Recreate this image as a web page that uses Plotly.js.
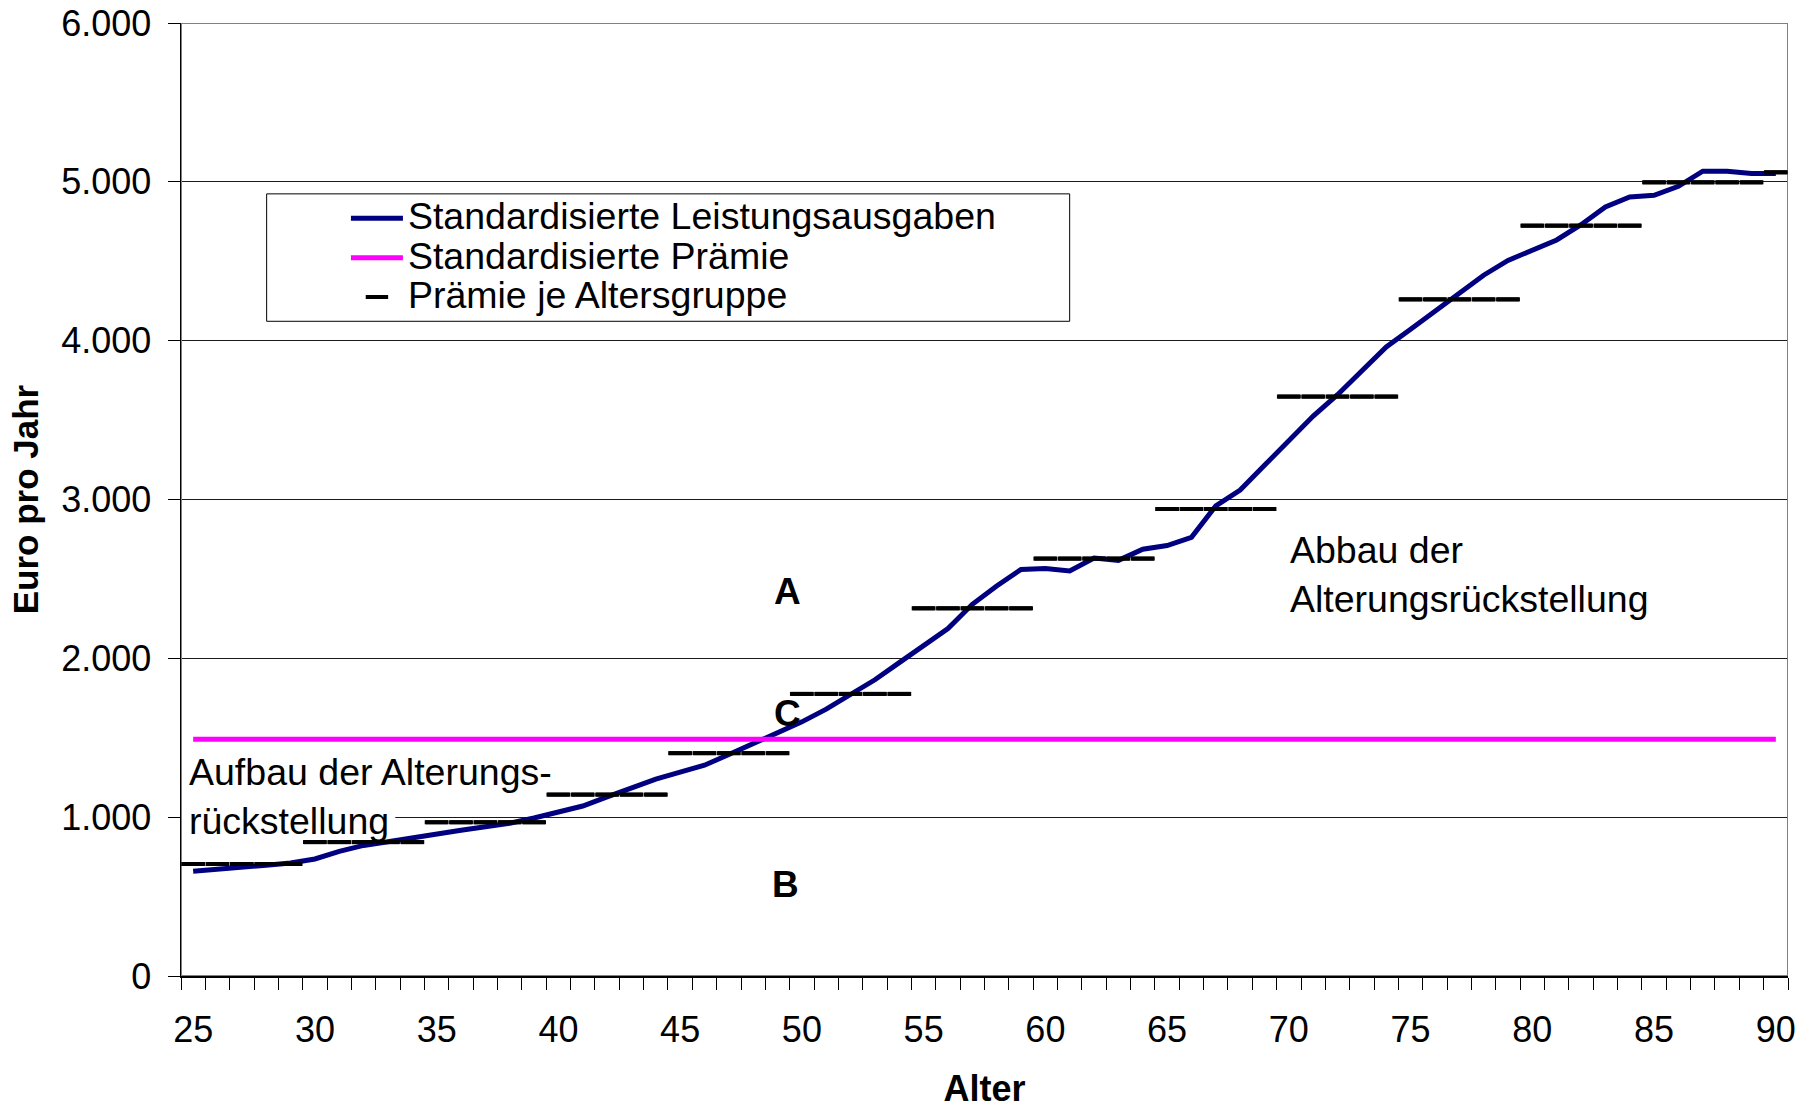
<!DOCTYPE html>
<html>
<head>
<meta charset="utf-8">
<script src="https://cdn.plot.ly/plotly-3.0.1.min.js"></script>
<style>
  html, body { margin: 0; padding: 0; background: #ffffff; }
  #chart { width: 1818px; height: 1109px; }
</style>
</head>
<body>
<div id="chart"></div>
<script>
// ---- Data ----
const alter = [25,26,27,28,29,30,31,32,33,34,35,36,37,38,39,40,41,42,43,44,45,46,47,48,49,
               50,51,52,53,54,55,56,57,58,59,60,61,62,63,64,65,66,67,68,69,70,71,72,73,74,
               75,76,77,78,79,80,81,82,83,84,85,86,87,88,89,90];

const leistungsausgaben = [660,670,683,697,712, 737,785,822,845,870, 900,918,940,962,995,
                           1032,1070,1128,1183,1240, 1284,1327,1395,1464,1533,
                           1600,1680,1770,1865,1973, 2081,2188,2340,2455,2560,
                           2565,2550,2632,2617,2687, 2710,2762,2960,3060,3215,
                           3370,3525,3660,3815,3960, 4072,4188,4300,4412,4505,
                           4568,4634,4730,4842,4905, 4915,4972,5067,5067,5052, 5052];

const praemieStandard = [1490,1490,1490,1490,1490,1490,1490,1490,1490,1490,1490,
                         1490,1490,1490,1490,1490,1490,1490,1490,1490,1490,1490,
                         1490,1490,1490,1490,1490,1490,1490,1490,1490,1490,1490,
                         1490,1490,1490,1490,1490,1490,1490,1490,1490,1490,1490,
                         1490,1490,1490,1490,1490,1490,1490,1490,1490,1490,1490,
                         1490,1490,1490,1490,1490,1490,1490,1490,1490,1490,1490];

const praemieGruppe = [705,705,705,705,705, 843,843,843,843,843, 968,968,968,968,968,
                       1142,1142,1142,1142,1142, 1403,1403,1403,1403,1403,
                       1776,1776,1776,1776,1776, 2315,2315,2315,2315,2315,
                       2628,2628,2628,2628,2628, 2940,2940,2940,2940,2940,
                       3648,3648,3648,3648,3648, 4260,4260,4260,4260,4260,
                       4724,4724,4724,4724,4724, 4997,4997,4997,4997,4997, 5060];

const seriesNames = ['Standardisierte Leistungsausgaben', 'Standardisierte Prämie', 'Prämie je Altersgruppe'];
const xTickVals = [25,30,35,40,45,50,55,60,65,70,75,80,85,90];
const xTickText = ['25','30','35','40','45','50','55','60','65','70','75','80','85','90'];
const yTickVals = [0,1000,2000,3000,4000,5000,6000];

const FONT = 'Liberation Sans, Arial, Helvetica, sans-serif';
const bigName = function (s) { return '<span style="font-size:37.5px">' + s + '</span>'; };

// Excel "dash" markers: one short horizontal stroke per age category (half-width 0.49 category)
const dashX = [], dashY = [];
alter.forEach(function (a, i) {
  dashX.push(a - 0.49, a + 0.49, null);
  dashY.push(praemieGruppe[i], praemieGruppe[i], null);
});

const traces = [
  {
    x: alter, y: leistungsausgaben, name: bigName(seriesNames[0]),
    type: 'scatter', mode: 'lines',
    line: { color: '#000080', width: 5 }
  },
  {
    x: alter, y: praemieStandard, name: bigName(seriesNames[1]),
    type: 'scatter', mode: 'lines',
    line: { color: '#FF00FF', width: 5 }
  },
  {
    x: alter, y: praemieGruppe, name: bigName(seriesNames[2]),
    type: 'scatter', mode: 'markers', legendgroup: 'gruppe',
    marker: { symbol: 'line-ew-open', size: 16, color: '#000000',
              line: { color: '#000000', width: 4 } }
  },
  {
    x: dashX, y: dashY, name: seriesNames[2], legendgroup: 'gruppe', showlegend: false,
    type: 'scatter', mode: 'lines', connectgaps: false,
    line: { color: '#000000', width: 4 }
  }
];

const layout = {
  width: 1818, height: 1109,
  margin: { l: 181, r: 29.5, t: 23, b: 133.3, pad: 0 },
  paper_bgcolor: '#ffffff', plot_bgcolor: '#ffffff',
  separators: ',.',
  font: { family: FONT, size: 36, color: '#000000' },
  hovermode: false,
  showlegend: true,
  legend: {
    x: 0.0541, y: 0.821, xanchor: 'left', yanchor: 'top',
    bgcolor: 'rgba(0,0,0,0)', borderwidth: 0,
    font: { family: FONT, size: 28, color: '#000000' },
    itemwidth: 52, indentation: 78,
    traceorder: 'normal', tracegroupgap: 0
  },
  xaxis: {
    range: [24.5, 90.5], fixedrange: true,
    tickmode: 'array', tickvals: xTickVals, ticktext: xTickText,
    ticks: '', showgrid: false, zeroline: false,
    showline: true, linecolor: '#000000', linewidth: 1.5,
    ticklabelstandoff: 21,
    tickfont: { family: FONT, size: 36, color: '#000000' },
    minor: { tickmode: 'linear', tick0: 24.5, dtick: 1, ticks: 'outside', ticklen: 12,
             tickcolor: '#000000', tickwidth: 1, showgrid: false },
    automargin: false,
    title: { text: 'Alter', standoff: 28,
             font: { family: FONT, size: 36, color: '#000000', weight: 'bold' } }
  },
  yaxis: {
    range: [0, 6000], fixedrange: true,
    tickmode: 'array', tickvals: yTickVals, tickformat: ',d',
    ticks: 'outside', ticklen: 12, tickcolor: '#000000', tickwidth: 1,
    showgrid: true, gridcolor: '#1a1a1a', gridwidth: 1,
    zeroline: false, showline: true, linecolor: '#000000', linewidth: 1.5,
    ticklabelstandoff: 9,
    tickfont: { family: FONT, size: 36, color: '#000000' },
    automargin: false,
    title: { text: 'Euro pro Jahr', standoff: 12,
             font: { family: FONT, size: 35, color: '#000000', weight: 'bold' } }
  },
  shapes: [
    // legend frame (Excel-style box, wider than its entries)
    { type: 'rect', xref: 'paper', yref: 'paper', x0: 0.0533, x1: 0.5530, y0: 0.6870, y1: 0.8207,
      fillcolor: '#ffffff', line: { color: '#000000', width: 1 }, layer: 'below' },
    // white patch hiding the gridline behind the "rückstellung" label
    { type: 'rect', xref: 'x', yref: 'y', x0: 24.5, x1: 33.3, y0: 960, y1: 1040,
      fillcolor: '#ffffff', line: { width: 0 }, layer: 'between' },
    // plot-area frame (grey)
    { type: 'rect', xref: 'x', yref: 'y', x0: 24.5, x1: 90.5, y0: 0, y1: 6000,
      line: { color: '#808080', width: 2 }, fillcolor: 'rgba(0,0,0,0)', layer: 'between' }
  ],
  annotations: [
    { x: 49.42, y: 2422, xref: 'x', yref: 'y', text: 'A', showarrow: false,
      font: { family: FONT, size: 37, color: '#000000', weight: 'bold' } },
    { x: 49.4, y: 1654, xref: 'x', yref: 'y', text: 'C', showarrow: false,
      font: { family: FONT, size: 37, color: '#000000', weight: 'bold' } },
    { x: 49.34, y: 573, xref: 'x', yref: 'y', text: 'B', showarrow: false,
      font: { family: FONT, size: 37, color: '#000000', weight: 'bold' } },
    { x: 24.74, y: 1133, xref: 'x', yref: 'y', xanchor: 'left', yanchor: 'middle', align: 'left',
      text: 'Aufbau der Alterungs-<br>rückstellung', showarrow: false,
      font: { family: FONT, size: 37.5, color: '#000000' } },
    { x: 69.97, y: 2529, xref: 'x', yref: 'y', xanchor: 'left', yanchor: 'middle', align: 'left',
      text: 'Abbau der<br>Alterungsrückstellung', showarrow: false,
      font: { family: FONT, size: 37.5, color: '#000000' } }
  ]
};

Plotly.newPlot('chart', traces, layout, { displayModeBar: false, staticPlot: true });
</script>
</body>
</html>
